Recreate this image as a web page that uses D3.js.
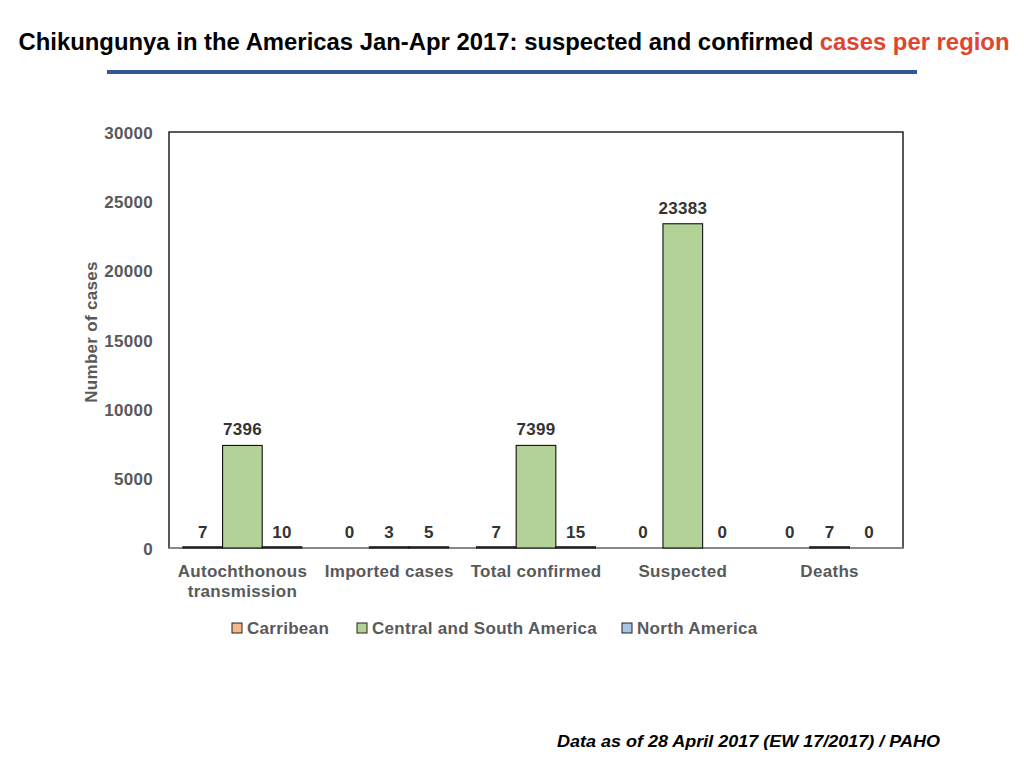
<!DOCTYPE html>
<html><head><meta charset="utf-8">
<script src="https://cdn.jsdelivr.net/npm/d3@7"></script>
<style>body{margin:0;background:#fff;} svg{display:block;}</style>
</head><body>
<svg id="c" width="1024" height="768"></svg>
<script>
const categories = [["Autochthonous","transmission"],["Imported cases"],["Total confirmed"],["Suspected"],["Deaths"]];
const seriesNames = ["Carribean","Central and South America","North America"];
const carribean = [7, 0, 7, 0, 0];
const centralSouth = [7396, 3, 7399, 23383, 7];
const northAmerica = [10, 5, 15, 0, 0];
const seriesColors = ["#f4b98a","#b3d297","#a9c4e6"];
const yTicks = [0,5000,10000,15000,20000,25000,30000];

const svg = d3.select("#c");
const W=1024;
const FONT = "'Liberation Sans',Arial,Helvetica,sans-serif";
const m = {left:169, right:903, top:132, bottom:548};
const catKeys = categories.map((c,i)=>"c"+i);
const series = [carribean, centralSouth, northAmerica];

const x0 = d3.scaleBand().domain(catKeys).range([m.left,m.right]).paddingInner(0.19).paddingOuter(0.095);
const x1 = d3.scaleBand().domain(seriesNames).range([0,x0.bandwidth()]);
const y = d3.scaleLinear().domain([0,30000]).range([m.bottom,m.top]);

function styl(sel, size, fill){
  return sel.style("font-family",FONT).style("font-weight","bold").style("font-size",size+"px")
    .style("letter-spacing","0.3px").attr("fill",fill);
}

// Title
const title = svg.append("text").attr("x",W/2+2).attr("y",50).attr("text-anchor","middle")
  .style("font-family","'Liberation Sans Narrow','Arial Narrow',sans-serif").style("font-weight","bold").style("font-size","23px")
  .attr("textLength",991).attr("lengthAdjust","spacingAndGlyphs");
title.append("tspan").attr("fill","#000").text("Chikungunya in the Americas Jan-Apr 2017: suspected and confirmed ");
title.append("tspan").attr("fill","#e0452f").text("cases per region");

svg.append("rect").attr("x",107).attr("y",70).attr("width",810).attr("height",4).attr("fill","#2e5a99");

// plot frame
svg.append("rect").attr("x",m.left).attr("y",m.top).attr("width",m.right-m.left).attr("height",m.bottom-m.top)
  .attr("fill","none").attr("stroke","#000").attr("stroke-width",1.3);
// bottom axis line
svg.append("line").attr("x1",m.left).attr("x2",m.right).attr("y1",m.bottom).attr("y2",m.bottom).attr("stroke","#999").attr("stroke-width",1.3);

// y axis
const yAxis = d3.axisLeft(y).tickValues(yTicks).tickSize(0).tickPadding(16).tickFormat(d3.format("d"));
const ga = svg.append("g").attr("transform",`translate(${m.left},0)`).call(yAxis);
ga.select(".domain").remove();
ga.selectAll("text").call(styl,17,"#595959").attr("dy","0.36em");

styl(svg.append("text").attr("transform",`translate(97,${(m.top+m.bottom)/2-8}) rotate(-90)`).attr("text-anchor","middle"),17,"#595959")
  .text("Number of cases");

// bars
const data = [];
catKeys.forEach((k,i)=>seriesNames.forEach((s,j)=>data.push({k,s,j,v:series[j][i]})));
const g = svg.append("g");
g.selectAll("rect").data(data.filter(d=>d.v>0)).join("rect")
  .attr("x",d=>x0(d.k)+x1(d.s)).attr("width",x1.bandwidth())
  .attr("y",d=>Math.min(y(d.v), m.bottom-1.2)).attr("height",d=>Math.max(m.bottom-y(d.v),1.2))
  .attr("fill",d=>seriesColors[d.j]).attr("stroke","#111").attr("stroke-width",1.1);

g.selectAll("text.v").data(data).join("text").attr("class","v")
  .attr("x",d=>x0(d.k)+x1(d.s)+x1.bandwidth()/2).attr("y",d=>y(d.v)-10)
  .attr("text-anchor","middle").call(styl,17,"#333").text(d=>d.v);

// category labels
catKeys.forEach((k,i)=>{
  const cx = x0(k)+x0.bandwidth()/2;
  const t = styl(svg.append("text").attr("x",cx).attr("y",577).attr("text-anchor","middle"),17,"#595959");
  categories[i].forEach((line,li)=>t.append("tspan").attr("x",cx).attr("dy",li?20:0).text(line));
});

// legend
const legX = [232,357,622];
seriesNames.forEach((s,j)=>{
  svg.append("rect").attr("x",legX[j]).attr("y",623).attr("width",10).attr("height",10).attr("fill",seriesColors[j]).attr("stroke","#222").attr("stroke-width",1);
  styl(svg.append("text").attr("x",legX[j]+15).attr("y",634),17,"#595959").text(s);
});

// footer
svg.append("text").attr("x",557).attr("y",747).style("font-family",FONT).style("font-weight","bold")
  .style("font-style","italic").style("font-size","17px").attr("fill","#000")
  .attr("textLength",383).attr("lengthAdjust","spacingAndGlyphs")
  .text("Data as of 28 April 2017 (EW 17/2017) / PAHO");
</script>
</body></html>
